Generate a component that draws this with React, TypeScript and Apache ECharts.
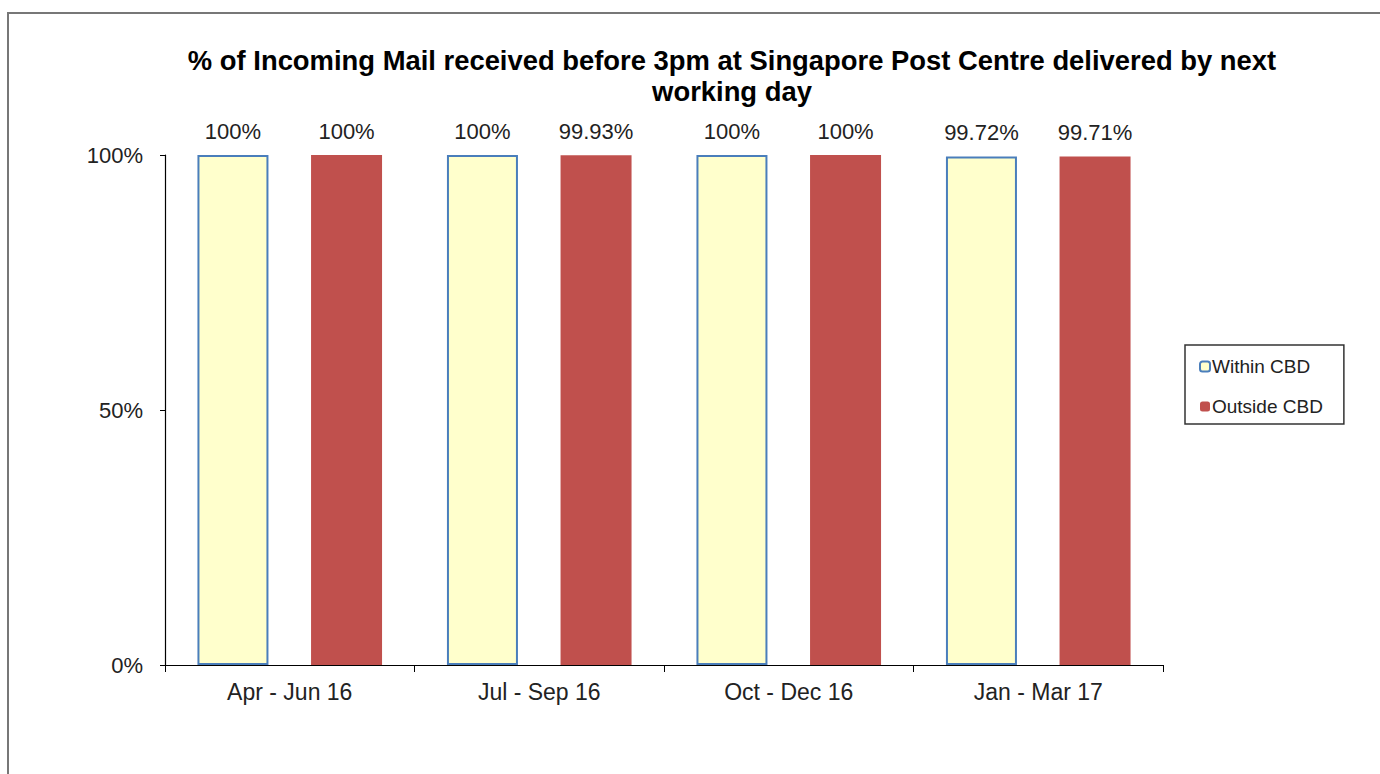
import React, { useEffect, useRef } from "react";
import * as echarts from "echarts";

const categories = ["Apr - Jun 16", "Jul - Sep 16", "Oct - Dec 16", "Jan - Mar 17"];
const withinCBD = [100, 100, 100, 99.72];
const outsideCBD = [100, 99.93, 100, 99.71];
const yTicks = [0, 50, 100];
const titleText = "% of Incoming Mail received before 3pm at Singapore Post Centre delivered by next\nworking day";

const fmt = (v: number) => (v === 100 ? "100%" : v.toFixed(2) + "%");

export default function App() {
  const ref = useRef<HTMLDivElement>(null);
  useEffect(() => {
    document.body.style.margin = "0";
    const chart = echarts.init(ref.current!, undefined, { renderer: "svg" });
    const font = "Liberation Sans, Arial, sans-serif";
    chart.setOption({
      animation: false,
      backgroundColor: "#ffffff",
      textStyle: { fontFamily: font },
      graphic: [
        {
          type: "rect",
          shape: { x: 8, y: 13, width: 1600, height: 1000 },
          style: { fill: "none", stroke: "#777777", lineWidth: 2 },
          silent: true,
        },
      ],
      title: {
        text: titleText,
        left: 727,
        textAlign: "center",
        top: 40,
        textStyle: { fontSize: 27.4, fontWeight: "bold", color: "#000", lineHeight: 31, fontFamily: font },
      },
      legend: {
        orient: "vertical",
        left: 1185,
        top: 345,
        padding: [12, 21, 8, 14],
        itemWidth: 10,
        itemHeight: 10,
        itemGap: 21,
        borderColor: "#333",
        borderWidth: 1.5,
        textStyle: { fontSize: 19, color: "#222", padding: [0, 0, 0, -3], fontFamily: font },
        data: ["Within CBD", "Outside CBD"],
      },
      grid: { left: 165, right: 217, top: 155, bottom: 109, containLabel: false },
      xAxis: {
        type: "category",
        data: categories,
        axisLine: { lineStyle: { color: "#000", width: 1.2 } },
        axisTick: { show: true, length: 7, lineStyle: { color: "#000" } },
        axisLabel: { fontSize: 23, color: "#222", margin: 15, fontFamily: font },
      },
      yAxis: {
        type: "value",
        min: yTicks[0],
        max: yTicks[yTicks.length - 1],
        interval: yTicks[1] - yTicks[0],
        splitLine: { show: false },
        axisLine: { show: true, lineStyle: { color: "#000", width: 1.2 } },
        axisTick: { show: true, length: 5, lineStyle: { color: "#000" } },
        axisLabel: { fontSize: 22, color: "#222", margin: 22, formatter: (v: number) => v + "%", fontFamily: font },
      },
      series: [
        {
          name: "Within CBD",
          type: "bar",
          data: withinCBD,
          barWidth: 71,
          barGap: "60%",
          itemStyle: { color: "#FFFFCC", borderColor: "#4A7EBB", borderWidth: 2 },
          label: {
            show: true,
            position: "top",
            distance: 13,
            fontSize: 22,
            color: "#222",
            formatter: (p: any) => fmt(p.value),
            fontFamily: font,
          },
        },
        {
          name: "Outside CBD",
          type: "bar",
          data: outsideCBD,
          barWidth: 71,
          itemStyle: { color: "#C0504D" },
          label: {
            show: true,
            position: "top",
            distance: 13,
            fontSize: 22,
            color: "#222",
            formatter: (p: any) => fmt(p.value),
            fontFamily: font,
          },
        },
      ],
    });
    return () => chart.dispose();
  }, []);
  return <div ref={ref} style={{ width: 1380, height: 774 }} />;
}
